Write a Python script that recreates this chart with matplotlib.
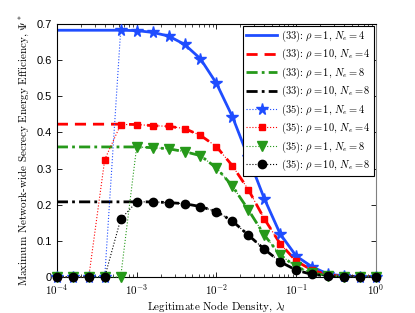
import matplotlib
matplotlib.use("Agg")
import matplotlib.pyplot as plt
import numpy as np
from matplotlib.ticker import LogLocator, NullFormatter, FixedLocator

plt.rcParams["mathtext.fontset"] = "cm"

# x grid: exponents of the legitimate node density
log_x = [-4.0, -3.8, -3.6, -3.4, -3.2, -3.0, -2.8, -2.6, -2.4, -2.2, -2.0,
         -1.8, -1.6, -1.4, -1.2, -1.0, -0.8, -0.6, -0.4, -0.2, 0.0]
lam = 10.0 ** np.array(log_x)

# (33): analytical curves
eq33_r1_n4 = [0.683, 0.683, 0.683, 0.683, 0.683, 0.682, 0.677, 0.667, 0.644, 0.604, 0.536,
              0.444, 0.331, 0.217, 0.119, 0.058, 0.028, 0.008, 0.003, 0.001, 0.0]
eq33_r10_n4 = [0.423, 0.423, 0.423, 0.423, 0.423, 0.422, 0.419, 0.417, 0.411, 0.392, 0.361,
               0.308, 0.242, 0.161, 0.092, 0.044, 0.019, 0.006, 0.002, 0.001, 0.0]
eq33_r1_n8 = [0.360, 0.360, 0.360, 0.360, 0.360, 0.360, 0.358, 0.355, 0.347, 0.336, 0.302,
              0.252, 0.186, 0.116, 0.061, 0.028, 0.011, 0.004, 0.001, 0.0, 0.0]
eq33_r10_n8 = [0.208, 0.208, 0.208, 0.208, 0.208, 0.208, 0.208, 0.206, 0.203, 0.195, 0.181,
               0.155, 0.116, 0.077, 0.042, 0.019, 0.007, 0.003, 0.001, 0.0, 0.0]

# (35): numerical optimum
eq35_r1_n4 = [0.0, 0.0, 0.0, 0.0, 0.683, 0.682, 0.677, 0.667, 0.644, 0.604, 0.536,
              0.444, 0.331, 0.217, 0.119, 0.058, 0.028, 0.008, 0.003, 0.001, 0.0]
eq35_r10_n4 = [0.0, 0.0, 0.0, 0.325, 0.422, 0.422, 0.419, 0.417, 0.411, 0.392, 0.361,
               0.308, 0.242, 0.161, 0.092, 0.044, 0.019, 0.006, 0.002, 0.001, 0.0]
eq35_r1_n8 = [0.0, 0.0, 0.0, 0.0, 0.0, 0.360, 0.358, 0.355, 0.347, 0.336, 0.302,
              0.252, 0.186, 0.116, 0.061, 0.028, 0.011, 0.004, 0.001, 0.0, 0.0]
eq35_r10_n8 = [0.0, 0.0, 0.0, 0.0, 0.160, 0.208, 0.208, 0.206, 0.203, 0.195, 0.181,
               0.155, 0.116, 0.077, 0.042, 0.019, 0.007, 0.003, 0.001, 0.0, 0.0]

labels33 = [r"(33): $\rho=1$, $N_e=4$", r"(33): $\rho=10$, $N_e=4$",
            r"(33): $\rho=1$, $N_e=8$", r"(33): $\rho=10$, $N_e=8$"]
labels35 = [r"(35): $\rho=1$, $N_e=4$", r"(35): $\rho=10$, $N_e=4$",
            r"(35): $\rho=1$, $N_e=8$", r"(35): $\rho=10$, $N_e=8$"]

blue = (0.12, 0.3, 1.0)
red = (1.0, 0.0, 0.0)
green = (0.15, 0.6, 0.1)
black = (0.0, 0.0, 0.0)

fig = plt.figure(figsize=(4.15, 3.13), dpi=100)
ax = fig.add_axes([0.137, 0.115, 0.769, 0.808])

ax.plot(lam, eq33_r1_n4, "-", color=blue, lw=2.0, label=labels33[0])
ax.plot(lam, eq33_r10_n4, "--", color=red, lw=2.0, dashes=(4, 2.5), label=labels33[1])
ax.plot(lam, eq33_r1_n8, "-.", color=green, lw=2.0, dashes=(4, 1.5, 1, 1.5), label=labels33[2])
ax.plot(lam, eq33_r10_n8, "-.", color=black, lw=2.0, dashes=(4, 1.5, 1, 1.5), label=labels33[3])

mk = dict(ls=":", lw=0.8, clip_on=False, zorder=4)
ax.plot(lam, eq35_r1_n4, marker="*", ms=8.5, color=blue, label=labels35[0], **mk)
ax.plot(lam, eq35_r10_n4, marker="s", ms=5, color=red, label=labels35[1], **mk)
ax.plot(lam, eq35_r1_n8, marker="v", ms=6.5, color=green, label=labels35[2], **mk)
ax.plot(lam, eq35_r10_n8, marker="o", ms=6, color=black, label=labels35[3], **mk)

ax.set_xscale("log")
ax.set_xlim(1e-4, 1)
ax.set_ylim(0, 0.7)
ax.xaxis.set_major_locator(FixedLocator([1e-4, 1e-3, 1e-2, 1e-1, 1]))
ax.set_xticklabels([r"$\mathsf{10^{-4}}$", r"$\mathsf{10^{-3}}$", r"$\mathsf{10^{-2}}$",
                    r"$\mathsf{10^{-1}}$", r"$\mathsf{10^{0}}$"])
ax.xaxis.set_minor_locator(LogLocator(base=10, subs=np.arange(2, 10), numticks=20))
ax.xaxis.set_minor_formatter(NullFormatter())
ax.set_yticks([0, 0.1, 0.2, 0.3, 0.4, 0.5, 0.6, 0.7])
ax.set_yticklabels(["0", "0.1", "0.2", "0.3", "0.4", "0.5", "0.6", "0.7"],
                   family="Liberation Sans")
ax.tick_params(which="both", direction="in", top=True, right=True, labelsize=8)
ax.tick_params(which="major", length=3.5, width=0.6)
ax.tick_params(which="minor", length=2, width=0.5)
for s in ax.spines.values():
    s.set_linewidth(0.8)
ax.spines["right"].set_color("0.5")

ax.set_xlabel(r"Legitimate Node Density, $\lambda_l$", family="cmr10", fontsize=8, labelpad=2)
ax.set_ylabel(r"Maximum Network-wide Secrecy Energy Efficiency, $\Psi^*$",
              family="cmr10", fontsize=8, labelpad=4)

leg = ax.legend(loc="upper right", prop={"family": "cmr10", "size": 7.5},
                fancybox=False, edgecolor="black", framealpha=1, handlelength=3,
                borderaxespad=0.15, labelspacing=0.3, borderpad=0.3, handletextpad=0.4)
leg.get_frame().set_linewidth(0.8)

fig.savefig("out.png", dpi=100)
